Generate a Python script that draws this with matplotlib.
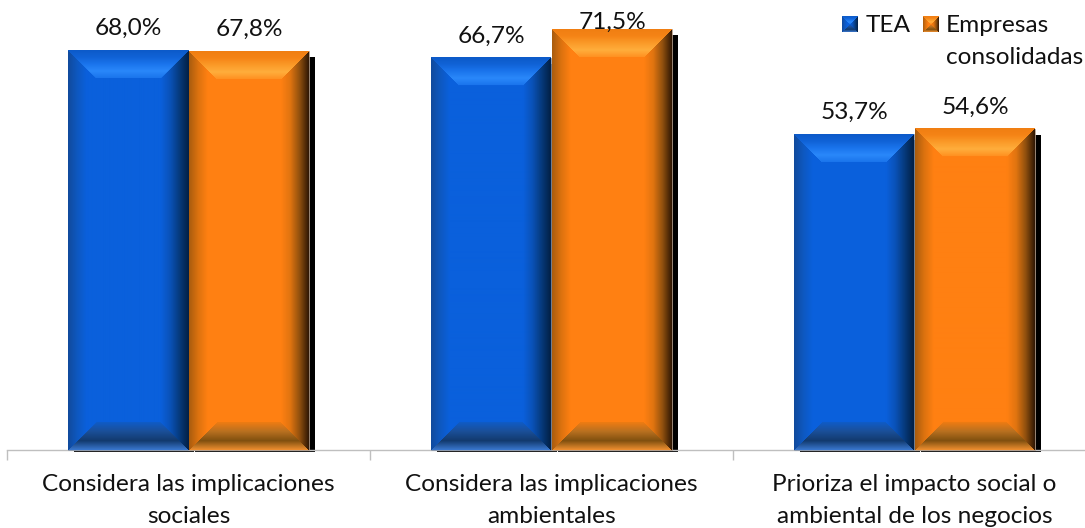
import numpy as np
import matplotlib
matplotlib.use("Agg")
import matplotlib.pyplot as plt
from matplotlib.colors import to_rgb

categories = ["Considera las implicaciones\nsociales",
              "Considera las implicaciones\nambientales",
              "Prioriza el impacto social o\nambiental de los negocios"]
series_names = ["TEA", "Empresas\nconsolidadas"]
tea = [68.0, 66.7, 53.7]
empresas = [67.8, 71.5, 54.6]
label_gap_px = [[15, 15, 15], [15, 1, 15]]

W, H = 1085, 528
plt.rcParams['font.family'] = ['Lato', 'DejaVu Sans']
FS = 17.6
fig = plt.figure(figsize=(W/100, H/100), dpi=100)
base_y = 450
ax = fig.add_axes([7/W, (H-base_y)/H, (W-7)/W, base_y/H])
PX_X = 363.0
PX_Y = 400/68.0
ax.set_xlim((7-188.5)/PX_X, (W-188.5)/PX_X)
ax.set_ylim(0, base_y/PX_Y)
ax.patch.set_alpha(0)
for s in ['top', 'left', 'right']:
    ax.spines[s].set_visible(False)
ax.spines['bottom'].set_color('#bfbfbf')
ax.spines['bottom'].set_linewidth(1.0)
ax.set_yticks([])
ax.set_xticks(range(3))
ax.set_xticklabels(categories, fontsize=FS, color='#111111', linespacing=1.68)
ax.tick_params(axis='x', which='major', length=0, pad=17)
ax.set_xticks([-0.5, 0.5, 1.5, 2.5], minor=True)
ax.tick_params(axis='x', which='minor', length=7, width=1.0, color='#bfbfbf')

PAL = {
 'blue': dict(base='#0A60DC',
   top=['#0C5AC8', '#1062D6', '#1A74EC', '#2A88FA', '#1A74EC'],
   left=['#114A9C', '#0E58C0', '#0A60DC', '#0A60DC'],
   right=['#021F44', '#063A7C', '#0A52B8', '#0A60DC'],
   bottom=['#3A78D0', '#123A6E', '#1B4F98', '#0F5CC8']),
 'orange': dict(base='#FF8012',
   top=['#F07E12', '#F58416', '#FB9A28', '#FFAE3C', '#FF9020'],
   left=['#A85C0E', '#DC720F', '#FF8012', '#FF8012'],
   right=['#2E1604', '#90500E', '#E07410', '#FF8012'],
   bottom=['#F09030', '#80500F', '#B87020', '#F07C12']),
}

def ramp(stops, t):
    arr = np.array([to_rgb(c) for c in stops])
    xs = np.linspace(0, 1, len(stops))
    return np.stack([np.interp(t, xs, arr[:, i]) for i in range(3)], axis=-1)

def bevel_image(w, h, pal, bev=28):
    y, x = np.mgrid[0:h, 0:w]
    dl, dr, dt, db = x+.5, w-x-.5, y+.5, h-y-.5
    d = np.stack([dt, dl, dr, db])
    zone = np.argmin(d, axis=0)
    img = np.ones((h, w, 3))*np.array(to_rgb(pal['base']))
    for i, k in enumerate(['top', 'left', 'right', 'bottom']):
        t = np.clip(d[i]/bev, 0, 1)
        col = ramp(pal[k], t)
        m = (zone == i) & (d[i] < bev)
        img[m] = col[m]
    return img

def draw_series(values, offset, key, gaps):
    pal = PAL[key]
    xs = np.arange(3) + offset
    width = 120/PX_X
    shadow = ax.bar(xs, values, width, color='black', zorder=2, clip_on=False)
    tr_dx = 6/PX_X
    for r in shadow:
        r.set_x(r.get_x()+tr_dx)
        r.set_height(r.get_height()-6/PX_Y+2/PX_Y)
        r.set_y(-2/PX_Y)
    bars = ax.bar(xs, values, width, color=pal['base'], edgecolor='#a0a0a0', linewidth=0.5, zorder=3, clip_on=False)
    for r, v, g in zip(bars, values, gaps):
        x0 = r.get_x(); x1 = x0+r.get_width()
        img = bevel_image(120, int(round(v*PX_Y)), pal)
        ax.imshow(img, extent=(x0, x1, 0, v), aspect='auto', zorder=3.5, interpolation='bilinear')
        ax.annotate(f"{v:.1f}%".replace('.', ','), (r.get_x()+r.get_width()/2, v),
                    xytext=(0, g*0.72), textcoords='offset points', ha='center', va='baseline',
                    fontsize=FS, color='#111111', zorder=5, annotation_clip=False)

draw_series(tea, -60.5/PX_X, 'blue', label_gap_px[0])
draw_series(empresas, 60.5/PX_X, 'orange', label_gap_px[1])
ax.set_xlim((7-188.5)/PX_X, (W-188.5)/PX_X)
ax.set_ylim(0, base_y/PX_Y)

def swatch(px, key):
    a = fig.add_axes([px/W, (H-32)/H, 16/W, 16/H])
    a.imshow(bevel_image(16, 16, PAL[key], bev=8), interpolation='bilinear', aspect='auto')
    a.axis('off')
swatch(842, 'blue')
swatch(923, 'orange')
fig.text(866/W, (H-32)/H, series_names[0], fontsize=FS, color='#111111', va='baseline')
fig.text(946/W, (H-32)/H, series_names[1].split('\n')[0], fontsize=FS, color='#111111', va='baseline')
fig.text(946/W, (H-64)/H, series_names[1].split('\n')[1], fontsize=FS, color='#111111', va='baseline')

fig.savefig('out.png', dpi=100)
